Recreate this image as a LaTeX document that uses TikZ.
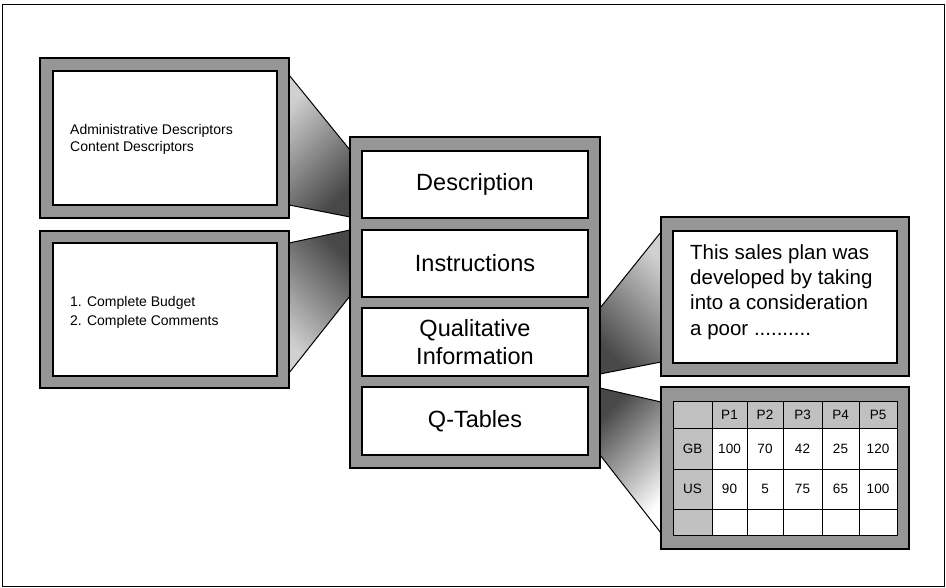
\documentclass[tikz,border=0pt]{standalone}
\usepackage{fontspec}
\setmainfont{Liberation Sans}
\usetikzlibrary{calc,backgrounds}
\definecolor{framegray}{RGB}{150,150,150}
\definecolor{cellgray}{RGB}{192,192,192}
\definecolor{shadelight}{RGB}{208,208,208}
\definecolor{shadedark}{RGB}{72,72,72}
\newcommand\qcell[7]{\node[cellbox,fill=#6,minimum width={(#4-#2)*1pt},minimum height={(#5-#3)*1pt}] (#1) at ({(#2+#4)/2},{(#3+#5)/2}) {#7};}
\begin{document}
\begin{tikzpicture}[x=1pt,y=-1pt,
  frame/.style={draw=black,line width=1.2pt,fill=framegray,inner sep=0pt,outer sep=0pt,anchor=north west},
  panel/.style={draw=black,line width=1.2pt,fill=white,inner sep=0pt,outer sep=0pt,anchor=north west,align=center,font=\fontsize{23.5}{28}\selectfont},
  band/.style={draw=black,line width=1pt,line join=round},
  cellbox/.style={draw=black,line width=1pt,inner sep=0pt,outer sep=0pt,font=\fontsize{13.5}{16}\selectfont},
  smalltext/.style={anchor=base west,inner sep=0pt,font=\fontsize{14}{17}\selectfont},
  bigtext/.style={anchor=base west,inner sep=0pt,font=\fontsize{20.5}{25}\selectfont},
]
\useasboundingbox (0,0) rectangle (946,588);
% outer border
\node[draw=black,line width=0.8pt,inner sep=0pt,outer sep=0pt,anchor=north west,minimum width=942pt,minimum height=582pt] (border) at (2,4) {};

% left boxes
\node[frame,minimum width=249pt,minimum height=160pt] (boxA) at (40,58) {};
\node[panel,minimum width=224pt,minimum height=134pt] (panelA) at (53,71) {};
\node[smalltext] (tA1) at (70,135) {Administrative Descriptors};
\node[smalltext] (tA2) at (70,152) {Content Descriptors};

\node[frame,minimum width=249pt,minimum height=157pt] (boxB) at (40,231) {};
\node[panel,minimum width=224pt,minimum height=133pt] (panelB) at (53,243) {};
\node[smalltext] (tB1) at (70,307) {1. Complete Budget};
\node[smalltext] (tB2) at (70,326) {2. Complete Comments};

% center
\node[frame,minimum width=250pt,minimum height=331pt] (center) at (350,137) {};
\node[panel,minimum width=226pt,minimum height=67pt] (desc) at (362,151) {Description};
\node[panel,minimum width=226pt,minimum height=67pt] (instr) at (362,230) {Instructions};
\node[panel,minimum width=226pt,minimum height=68pt] (qual) at (362,308) {Qualitative\\Information};
\node[panel,minimum width=226pt,minimum height=68pt] (qtab) at (362,387) {Q-Tables};

% right text box
\node[frame,minimum width=248pt,minimum height=159pt] (boxC) at (661,217) {};
\node[panel,minimum width=224pt,minimum height=132pt] (panelC) at (673,231) {};
\node[bigtext] (tC1) at (690,260) {This sales plan was};
\node[bigtext] (tC2) at (690,285) {developed by taking};
\node[bigtext] (tC3) at (690,310) {into a consideration};
\node[bigtext] (tC4) at (690,335) {a poor ..........};

% right table box
\node[frame,minimum width=248pt,minimum height=162pt] (boxD) at (661,387) {};
\qcell{t00}{673}{401}{712}{428}{cellgray}{}
\qcell{t01}{712}{401}{747}{428}{cellgray}{P1}
\qcell{t02}{747}{401}{783}{428}{cellgray}{P2}
\qcell{t03}{783}{401}{822}{428}{cellgray}{P3}
\qcell{t04}{822}{401}{859}{428}{cellgray}{P4}
\qcell{t05}{859}{401}{897}{428}{cellgray}{P5}
\qcell{t10}{673}{428}{712}{469}{cellgray}{GB}
\qcell{t11}{712}{428}{747}{469}{white}{100}
\qcell{t12}{747}{428}{783}{469}{white}{70}
\qcell{t13}{783}{428}{822}{469}{white}{42}
\qcell{t14}{822}{428}{859}{469}{white}{25}
\qcell{t15}{859}{428}{897}{469}{white}{120}
\qcell{t20}{673}{469}{712}{509}{cellgray}{US}
\qcell{t21}{712}{469}{747}{509}{white}{90}
\qcell{t22}{747}{469}{783}{509}{white}{5}
\qcell{t23}{783}{469}{822}{509}{white}{75}
\qcell{t24}{822}{469}{859}{509}{white}{65}
\qcell{t25}{859}{469}{897}{509}{white}{100}
\qcell{t30}{673}{509}{712}{535}{cellgray}{}
\qcell{t31}{712}{509}{747}{535}{white}{}
\qcell{t32}{747}{509}{783}{535}{white}{}
\qcell{t33}{783}{509}{822}{535}{white}{}
\qcell{t34}{822}{509}{859}{535}{white}{}
\qcell{t35}{859}{509}{897}{535}{white}{}

% connector corner points, taken from the boxes they join
\coordinate (c1a) at ($(boxA.north east)+(0,17)$);
\coordinate (c1b) at ($(center.north west)+(0,13)$);
\coordinate (c1c) at ($(center.north west)+(0,80)$);
\coordinate (c1d) at ($(boxA.north east)+(0,147)$);
\coordinate (c2a) at ($(boxB.north east)+(0,12)$);
\coordinate (c2b) at ($(center.north west)+(0,93)$);
\coordinate (c2c) at ($(center.north west)+(0,159)$);
\coordinate (c2d) at ($(boxB.north east)+(0,142)$);
\coordinate (c3a) at ($(center.north east)+(0,171)$);
\coordinate (c3b) at ($(boxC.north west)+(0,15)$);
\coordinate (c3c) at ($(boxC.north west)+(0,145)$);
\coordinate (c3d) at ($(center.north east)+(0,237)$);
\coordinate (c4a) at ($(center.north east)+(0,251)$);
\coordinate (c4b) at ($(boxD.north west)+(0,15)$);
\coordinate (c4c) at ($(boxD.north west)+(0,146)$);
\coordinate (c4d) at ($(center.north east)+(0,318)$);

\begin{scope}[on background layer]
  \shade[top color=shadelight,bottom color=shadedark,shading angle=45] (c1a) -- (c1b) -- (c1c) -- (c1d) -- cycle;
  \draw[band] (c1a) -- (c1b) (c1c) -- (c1d);
  \shade[top color=shadedark,bottom color=shadelight,shading angle=-45] (c2a) -- (c2b) -- (c2c) -- (c2d) -- cycle;
  \draw[band] (c2a) -- (c2b) (c2c) -- (c2d);
  \shade[top color=shadelight,bottom color=shadedark,shading angle=-45] (c3a) -- (c3b) -- (c3c) -- (c3d) -- cycle;
  \draw[band] (c3a) -- (c3b) (c3c) -- (c3d);
  \shade[top color=shadedark,bottom color=white,shading angle=45] (c4a) -- (c4b) -- (c4c) -- (c4d) -- cycle;
  \draw[band] (c4a) -- (c4b) (c4c) -- (c4d);
\end{scope}
\end{tikzpicture}
\end{document}
